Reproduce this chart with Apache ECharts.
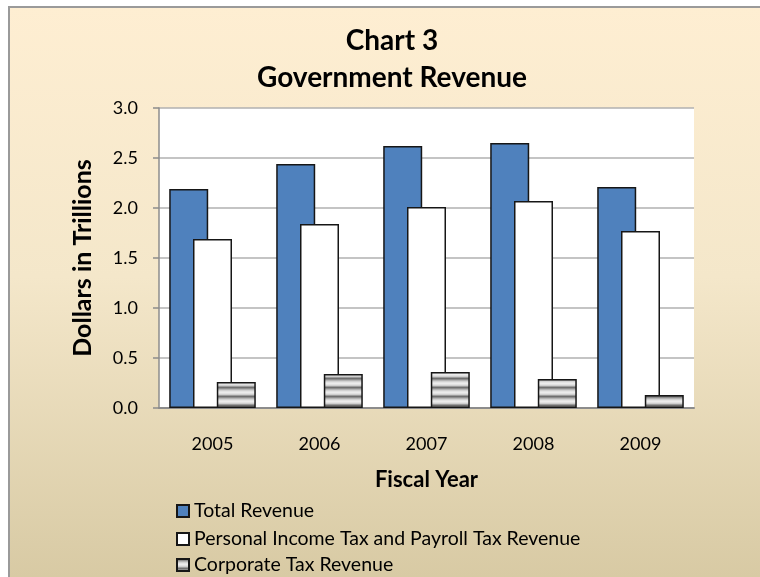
<!DOCTYPE html>
<html>
<head>
<meta charset="utf-8">
<script src="https://cdn.jsdelivr.net/npm/echarts@6/dist/echarts.min.js"></script>
<style>
html,body{margin:0;padding:0;background:#fff;}
#c{width:760px;height:577px;}
</style>
</head>
<body>
<div id="c"></div>
<script>
const years = ['2005', '2006', '2007', '2008', '2009'];
const totalRevenue = [2.19, 2.44, 2.62, 2.65, 2.21];
const personalPayroll = [1.69, 1.84, 2.01, 2.07, 1.77];
const corporateTax = [0.26, 0.34, 0.36, 0.29, 0.13];
const yTicks = ['0.0', '0.5', '1.0', '1.5', '2.0', '2.5', '3.0'];
const seriesNames = ['Total Revenue', 'Personal Income Tax and Payroll Tax Revenue', 'Corporate Tax Revenue'];

function stripePattern() {
  const cv = document.createElement('canvas');
  cv.width = 4; cv.height = 9;
  const ctx = cv.getContext('2d');
  const rows = ['#6f6f6f', '#8e8e8e', '#b4b4b4', '#d2d2d2', '#e4e4e4', '#ececec', '#e2e2e2', '#cfcfcf', '#9c9c9c'];
  rows.forEach((c, i) => { ctx.fillStyle = c; ctx.fillRect(0, i, 4, 1); });
  return cv;
}

const font = 'Lato, "Open Sans", sans-serif';
const chart = echarts.init(document.getElementById('c'));
const barBorder = { borderColor: '#161616', borderWidth: 1.5 };
const legendTops = [501, 529, 555];

chart.setOption({
  animation: false,
  textStyle: { fontFamily: font },
  graphic: [{
    type: 'rect', z: -10, silent: true,
    shape: { x: 9, y: 7, width: 770, height: 600 },
    style: {
      fill: new echarts.graphic.LinearGradient(0, 0, 0, 1, [
        { offset: 0, color: '#FEEED2' },
        { offset: 0.45, color: '#F4E7CA' },
        { offset: 1, color: '#D5C7A0' }
      ]),
      stroke: '#9a9a9a', lineWidth: 2
    }
  }],
  title: {
    text: 'Chart 3\nGovernment Revenue',
    left: 387, textAlign: 'center', top: 17,
    textStyle: { fontFamily: font, fontSize: 28, fontWeight: 'bold', color: '#000', lineHeight: 37 }
  },
  grid: { left: 159, right: 66, top: 108, bottom: 169, show: true, backgroundColor: '#fff', borderWidth: 0 },
  legend: seriesNames.map((n, i) => ({
    orient: 'vertical', left: 176, top: legendTops[i], padding: 0,
    itemWidth: 12, itemHeight: 12, icon: 'rect', itemGap: 0,
    textStyle: { fontFamily: font, fontSize: 19.5, color: '#000' },
    data: [n]
  })),
  xAxis: {
    type: 'category', data: years,
    name: 'Fiscal Year', nameLocation: 'middle', nameGap: 61,
    nameTextStyle: { fontFamily: font, fontSize: 22, fontWeight: 'bold', color: '#000' },
    axisLine: { lineStyle: { color: '#8c8c8c', width: 2 } },
    axisTick: { show: false },
    axisLabel: { fontFamily: font, fontSize: 18, color: '#000', margin: 27 }
  },
  yAxis: {
    type: 'value', min: 0, max: 3, interval: 0.5,
    name: 'Dollars in Trillions', nameLocation: 'middle', nameGap: 64, nameRotate: 90,
    nameTextStyle: { fontFamily: font, fontSize: 25, fontWeight: 'bold', color: '#000' },
    axisLine: { show: true, lineStyle: { color: '#8c8c8c', width: 1.5 } },
    axisTick: { show: true, length: 6, lineStyle: { color: '#8c8c8c', width: 1.5 } },
    splitLine: { lineStyle: { color: '#b0b0b0', width: 1.5 } },
    axisLabel: { fontFamily: font, fontSize: 18, color: '#000', margin: 21,
      formatter: v => yTicks[Math.round(v * 2)] }
  },
  series: [
    { name: seriesNames[0], type: 'bar', data: totalRevenue, barWidth: 39, barGap: '-39%',
      itemStyle: Object.assign({ color: '#4F81BD' }, barBorder), z: 2 },
    { name: seriesNames[1], type: 'bar', data: personalPayroll, barWidth: 39, barGap: '-39%',
      itemStyle: Object.assign({ color: '#ffffff' }, barBorder), z: 3 },
    { name: seriesNames[2], type: 'bar', data: corporateTax, barWidth: 39, barGap: '-39%',
      itemStyle: Object.assign({ color: { image: stripePattern(), repeat: 'repeat' } }, barBorder), z: 4 }
  ]
});
</script>
</body>
</html>
